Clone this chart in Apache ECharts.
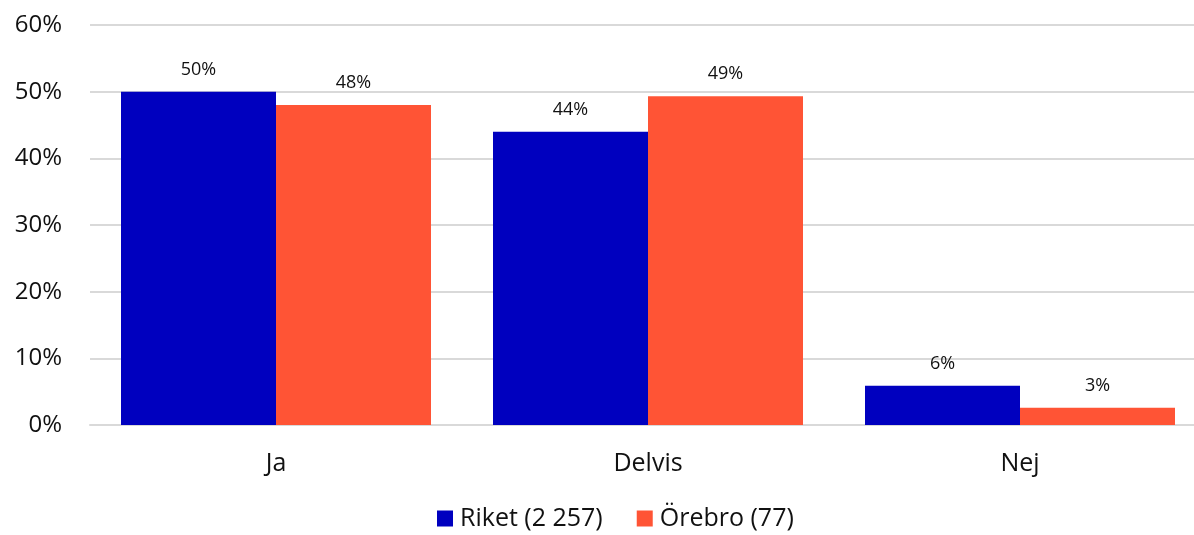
<!DOCTYPE html>
<html><head><meta charset="utf-8">
<script src="https://cdn.jsdelivr.net/npm/echarts@6/dist/echarts.min.js"></script>
<style>html,body{margin:0;padding:0;background:#fff;overflow:hidden}#c{width:1206px;height:535px}</style>
</head><body><div id="c"></div>
<script>
const categories = ['Ja', 'Delvis', 'Nej'];
const riket = [50, 44, 5.9];
const orebro = [48, 49.3, 2.6];
const seriesNames = ['Riket (2 257)', 'Örebro (77)'];
const yTicks = { min: 0, max: 60, interval: 10 };

const FONT = '"Open Sans", sans-serif';
const chart = echarts.init(document.getElementById('c'), null, { renderer: 'canvas' });
const labelCfg = {
  show: true, position: 'top', distance: 13,
  formatter: p => Math.round(p.value) + '%',
  fontFamily: FONT, fontSize: 18, color: '#111'
};
chart.setOption({
  animation: false,
  grid: { left: 90, top: 25, bottom: 110, right: 0, containLabel: false },
  legend: {
    bottom: 4, left: 437, padding: 0, itemWidth: 16, itemHeight: 16, itemGap: 34,
    icon: 'rect',
    textStyle: { fontFamily: FONT, fontSize: 25, color: '#111', padding: [0, 0, 0, 2] },
    data: seriesNames
  },
  xAxis: {
    type: 'category', data: categories,
    axisLine: { lineStyle: { color: '#d9d9d9', width: 2 } },
    axisTick: { show: false },
    axisLabel: { fontFamily: FONT, fontSize: 25, color: '#111', margin: 26 }
  },
  yAxis: {
    type: 'value', min: yTicks.min, max: yTicks.max, interval: yTicks.interval,
    axisLine: { show: false }, axisTick: { show: false },
    splitLine: { lineStyle: { color: '#d9d9d9', width: 2 } },
    axisLabel: { formatter: '{value}%', fontFamily: FONT, fontSize: 24, color: '#111', margin: 28 }
  },
  series: [
    { name: seriesNames[0], type: 'bar', data: riket, barWidth: 155, barGap: '0%',
      itemStyle: { color: '#0000BF' }, label: labelCfg },
    { name: seriesNames[1], type: 'bar', data: orebro, barWidth: 155, barGap: '0%',
      itemStyle: { color: '#FF5435' }, label: labelCfg }
  ]
});
</script></body></html>
